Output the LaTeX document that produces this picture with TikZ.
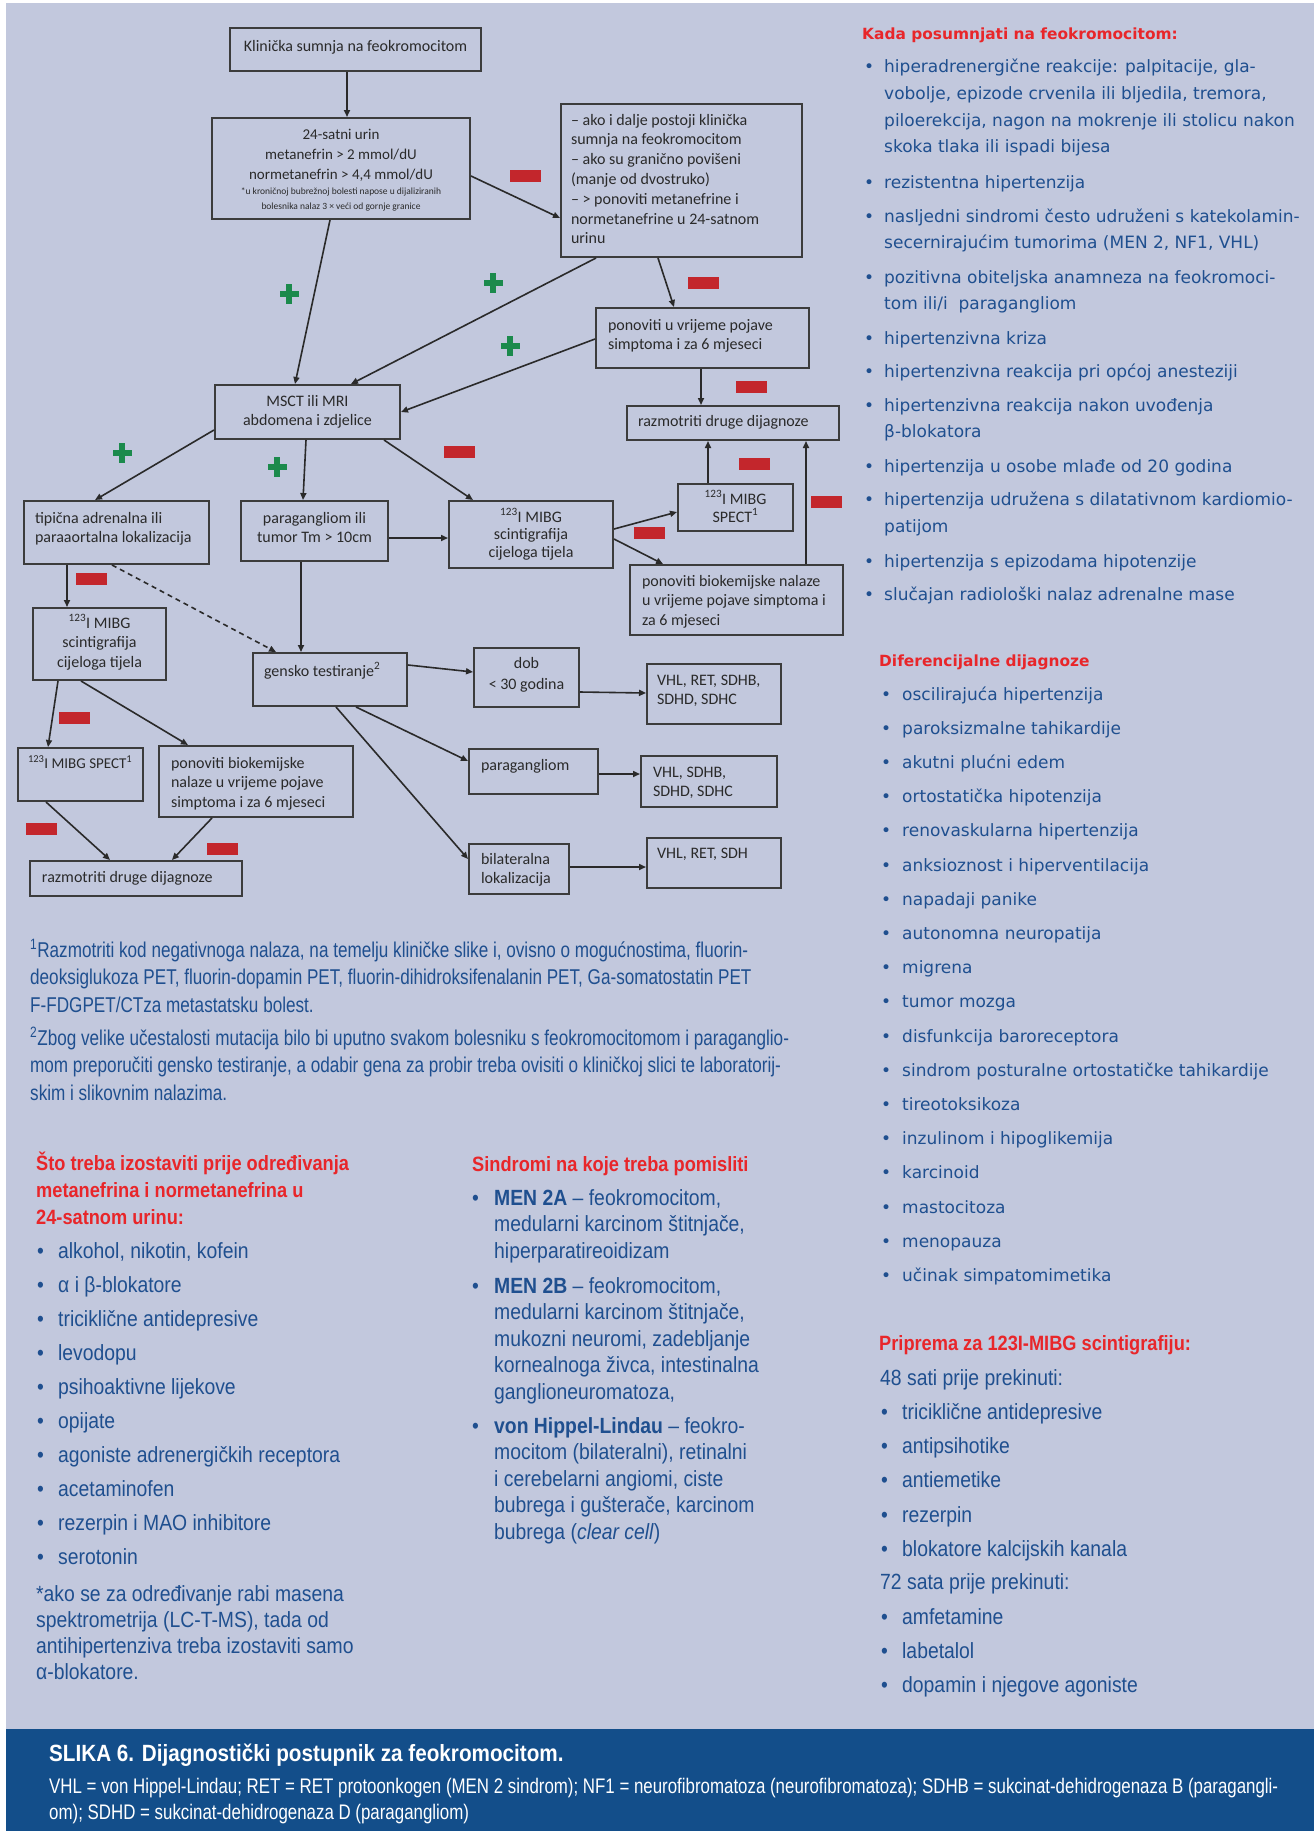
\documentclass[tikz,border=0pt]{standalone}
\usepackage{fontspec}
\setmainfont{Liberation Sans}
\newfontfamily\dvsfont{DejaVu Sans}
\newfontfamily\robfont[FakeStretch=0.88]{Liberation Sans}
\newfontfamily\robcfont[FakeStretch=0.8]{Liberation Sans}
\newfontfamily\calfont{Carlito}
\usetikzlibrary{arrows.meta}
\definecolor{bgc}{HTML}{C2C8DD}
\definecolor{bandc}{HTML}{134E8A}
\definecolor{bluetxt}{HTML}{1F4F8F}
\definecolor{redc}{HTML}{E8262A}
\definecolor{boxc}{HTML}{3C3C3C}
\definecolor{boxtxt}{HTML}{2A2A2A}
\definecolor{arrc}{HTML}{2A2A2A}
\definecolor{minc}{HTML}{C3262C}
\definecolor{plusc}{HTML}{1B8A4C}
\newcommand{\fbx}[6]{\node[fbox, minimum width=#4pt, minimum height=#5pt] (#1) at (#2,#3) {\parbox[c][#5pt][t]{#4pt}{#6}};}
\newcommand{\Lpad}[2]{\raggedright\setlength{\leftskip}{#1pt}\rule{0pt}{#2pt}}
\newcommand{\Cpad}[1]{\centering\rule{0pt}{#1pt}}
\newcommand{\bitem}[5]{\node[anchor=base west, inner sep=0pt] (#1) at (#2,{#3}) {\makebox[#4pt][l]{\textbullet}\parbox[t]{440pt}{\raggedright #5}};}
\newcommand{\tblock}[2]{\parbox[t]{#1pt}{\raggedright #2}}
\tikzset{
  fbox/.style={draw=boxc, line width=2pt, inner sep=0pt, anchor=north west, text=boxtxt, font=\calfont\fontsize{16}{19.8}\selectfont},
  arr/.style={-{Triangle[length=7pt,width=6pt]}, line width=1.6pt, draw=arrc},
  minus/.style={fill=minc, minimum width=31pt, minimum height=12pt, inner sep=0pt},
  plussign/.pic={\fill[plusc] (-9.5,-3) rectangle (9.5,3); \fill[plusc] (-3,-10) rectangle (3,10);},
  txt/.style={anchor=base west, inner sep=0pt}
}
\begin{document}
\begin{tikzpicture}[x=1pt,y=-1pt]
\useasboundingbox (0,0) rectangle (1316,1831);
\fill[white] (0,0) rectangle (1316,1831);
\fill[bgc] (6,3) rectangle (1314,1831);
\fill[bandc] (6,1729) rectangle (1314,1831);

% ---------- flowchart boxes ----------
\fbx{A}{229}{27}{251}{43}{\Cpad{23}Klinička sumnja na feokromocitom}
\fbx{B}{211}{117}{258}{101}{\fontsize{15}{20}\selectfont\Cpad{21}24-satni urin\\metanefrin > 2 mmol/dU\\normetanefrin > 4,4 mmol/dU\par\fontsize{9.5}{15}\selectfont *u kroničnoj bubrežnoj bolesti napose u dijaliziranih\\bolesnika nalaz 3 × veći od gornje granice}
\fbx{C}{560}{103}{241}{153}{\Lpad{10}{21}– ako i dalje postoji klinička\\sumnja na feokromocitom\\– ako su granično povišeni\\(manje od dvostruko)\\– > ponoviti metanefrine i\\normetanefrine u 24-satnom\\urinu}
\fbx{D}{595}{307}{213}{60}{\Lpad{12}{22}ponoviti u vrijeme pojave\\simptoma i za 6 mjeseci}
\fbx{E}{214}{384}{185}{54}{\Cpad{21}MSCT ili MRI\\abdomena i zdjelice}
\fbx{F}{626}{405}{212}{34}{\Lpad{11}{20}razmotriti druge dijagnoze}
\fbx{G}{677}{483}{115}{47}{\fontsize{16}{18}\selectfont\Cpad{20}\textsuperscript{123}I MIBG\\SPECT\textsuperscript{1}}
\fbx{H}{629}{564}{213}{70}{\Lpad{12}{21}ponoviti biokemijske nalaze\\u vrijeme pojave simptoma i\\za 6 mjeseci}
\fbx{I}{448}{500}{164}{67}{\fontsize{16}{17.5}\selectfont\Cpad{21}\textsuperscript{123}I MIBG\\scintigrafija\\cijeloga tijela}
\fbx{J}{23}{500}{185}{63}{\fontsize{16}{19}\selectfont\Lpad{11}{22}tipična adrenalna ili\\paraaortalna lokalizacija}
\fbx{K}{240}{500}{147}{60}{\fontsize{16}{19}\selectfont\Cpad{22}paragangliom ili\\tumor Tm > 10cm}
\fbx{L}{32}{607}{133}{72}{\fontsize{16}{19.5}\selectfont\Cpad{20}\textsuperscript{123}I MIBG\\scintigrafija\\cijeloga tijela}
\fbx{M}{252}{652}{154}{53}{\Lpad{11}{23}gensko testiranje\textsuperscript{2}}
\fbx{N}{473}{647}{105}{59}{\fontsize{16}{21}\selectfont\Cpad{20}dob\\< 30 godina}
\fbx{O}{646}{663}{134}{60}{\Lpad{10}{21}VHL, RET, SDHB,\\SDHD, SDHC}
\fbx{P}{468}{748}{129}{45}{\Lpad{12}{21}paragangliom}
\fbx{Q}{640}{755}{136}{51}{\Lpad{12}{21}VHL, SDHB,\\SDHD, SDHC}
\fbx{R}{468}{843}{100}{50}{\Lpad{12}{20}bilateralna\\lokalizacija}
\fbx{S}{646}{837}{134}{50}{\Lpad{10}{20}VHL, RET, SDH}
\fbx{T}{17}{747}{125}{53}{\fontsize{15}{19}\selectfont\Lpad{10}{20}\mbox{\textsuperscript{123}I MIBG SPECT\textsuperscript{1}}}
\fbx{U}{158}{745}{194}{71}{\Lpad{12}{22}ponoviti biokemijske\\nalaze u vrijeme pojave\\simptoma i za 6 mjeseci}
\fbx{V}{29}{860}{212}{35}{\Lpad{12}{21}razmotriti druge dijagnoze}

% ---------- connectors ----------
\draw[arr] ([xshift=-8.5pt]A.south) -- ([xshift=6pt]B.north);
\draw[arr] ([yshift=-7.5pt]B.east) -- ([yshift=-37.5pt]C.west);
\draw[arr] ([xshift=-11pt]B.south) -- ([xshift=-12.5pt]E.north);
\draw[arr] ([xshift=-85.5pt]C.south) -- ([xshift=43.5pt]E.north);
\draw[arr] ([xshift=-23.5pt]C.south) -- ([xshift=-28.5pt]D.north);
\draw[arr] ([yshift=-1pt]D.west) -- (E.east);
\draw[arr] ([xshift=-1.5pt]D.south) -- ([xshift=-32pt]F.north);
\draw[arr] ([xshift=-27.5pt]G.north) -- ([xshift=-25pt]F.south);
\draw[arr] ([xshift=69.5pt]H.north) -- ([xshift=73pt]F.south);
\draw[arr] ([yshift=5.5pt]I.east) -- ([yshift=-4.5pt]G.west);
\draw[arr] ([yshift=-4.5pt]I.east) -- ([xshift=-73.5pt]H.north);
\draw[arr] ([yshift=-18pt]E.west) -- ([xshift=-21.5pt]J.north);
\draw[arr] ([xshift=-1.5pt]E.south) -- ([xshift=-11.5pt]K.north);
\draw[arr] ([xshift=76.5pt]E.south) -- ([xshift=-58pt]I.north);
\draw[arr] ([yshift=-7pt]K.east) -- ([yshift=-3.5pt]I.west);
\draw[arr] ([xshift=-49.5pt]J.south) -- ([xshift=-32.5pt]L.north);
\draw[arr, dash pattern=on 5pt off 4pt] ([xshift=-4.5pt]J.south) -- ([xshift=-54pt]M.north);
\draw[arr] ([xshift=-13.5pt]K.south) -- ([xshift=-29pt]M.north);
\draw[arr] ([yshift=14.5pt]M.east) -- ([yshift=5.5pt]N.west);
\draw[arr] ([yshift=-14.5pt]N.east) -- ([yshift=1pt]O.west);
\draw[arr] ([xshift=26pt]M.south) -- ([yshift=10.5pt]P.west);
\draw[arr] ([yshift=-2.5pt]P.east) -- ([yshift=7.5pt]Q.west);
\draw[arr] ([xshift=6pt]M.south) -- ([yshift=10pt]R.west);
\draw[arr] ([yshift=2pt]R.east) -- ([yshift=-4pt]S.west);
\draw[arr] ([xshift=-41.5pt]L.south) -- ([xshift=-32.5pt]T.north);
\draw[arr] ([xshift=-18.5pt]L.south) -- ([xshift=-68pt]U.north);
\draw[arr] ([xshift=-34.5pt]T.south) -- ([xshift=-26pt]V.north);
\draw[arr] ([xshift=-44pt]U.south) -- ([xshift=36pt]V.north);

% ---------- plus / minus badges ----------
\node[minus] (m1) at (525,176) {};
\node[minus] (m2) at (703,283) {};
\node[minus] (m3) at (751,387) {};
\node[minus] (m4) at (754,464) {};
\node[minus] (m5) at (826,502) {};
\node[minus] (m6) at (649,533) {};
\node[minus] (m7) at (459,452) {};
\node[minus] (m8) at (91,579) {};
\node[minus] (m9) at (74,718) {};
\node[minus] (m10) at (41,829) {};
\node[minus] (m11) at (222,849) {};
\pic at (289,294) {plussign};
\pic at (493,283) {plussign};
\pic at (510,346) {plussign};
\pic at (122,453) {plussign};
\pic at (277,467) {plussign};

% ---------- footnotes ----------
\begin{scope}[text=bluetxt, font=\robcfont\fontsize{21.4}{27.5}\selectfont]
\node[txt] (fn1) at (30,957) {\tblock{820}{\textsuperscript{1}Razmotriti kod negativnoga nalaza, na temelju kliničke slike i, ovisno o mogućnostima, fluorin-\\deoksiglukoza PET, fluorin-dopamin PET, fluorin-dihidroksifenalanin PET, Ga-somatostatin PET\\F-FDGPET/CTza metastatsku bolest.}};
\node[txt] (fn2) at (30,1045) {\tblock{820}{\textsuperscript{2}Zbog velike učestalosti mutacija bilo bi uputno svakom bolesniku s feokromocitomom i paraganglio-\\mom preporučiti gensko testiranje, a odabir gena za probir treba ovisiti o kliničkoj slici te laboratorij-\\skim i slikovnim nalazima.}};
\end{scope}

% ---------- right column 1 ----------
\node[txt, text=redc, font=\dvsfont\bfseries\fontsize{15.4}{20}\selectfont] (h1) at (862,39) {Kada posumnjati na feokromocitom:};
\begin{scope}[text=bluetxt, font=\dvsfont\fontsize{17}{26.7}\selectfont]
\bitem{r1}{864}{72.7}{20}{hiperadrenergične reakcije: palpitacije, gla-\\vobolje, epizode crvenila ili bljedila, tremora,\\piloerekcija, nagon na mokrenje ili stolicu nakon\\skoka tlaka ili ispadi bijesa}
\bitem{r2}{864}{188}{20}{rezistentna hipertenzija}
\bitem{r3}{864}{222}{20}{nasljedni sindromi često udruženi s katekolamin-\\secernirajućim tumorima (MEN 2, NF1, VHL)}
\bitem{r4}{864}{283}{20}{pozitivna obiteljska anamneza na feokromoci-\\tom ili/i\ \ paragangliom}
\bitem{r5}{864}{344}{20}{hipertenzivna kriza}
\bitem{r6}{864}{377.6}{20}{hipertenzivna reakcija pri općoj anesteziji}
\bitem{r7}{864}{411}{20}{hipertenzivna reakcija nakon uvođenja\\β-blokatora}
\bitem{r8}{864}{472}{20}{hipertenzija u osobe mlađe od 20 godina}
\bitem{r9}{864}{505.6}{20}{hipertenzija udružena s dilatativnom kardiomio-\\patijom}
\bitem{r10}{864}{567}{20}{hipertenzija s epizodama hipotenzije}
\bitem{r11}{864}{600.6}{20}{slučajan radiološki nalaz adrenalne mase}
\end{scope}

% ---------- right column 2 ----------
\node[txt, text=redc, font=\dvsfont\bfseries\fontsize{15.4}{20}\selectfont] (h2) at (879,666) {Diferencijalne dijagnoze};
\begin{scope}[text=bluetxt, font=\dvsfont\fontsize{17}{26.7}\selectfont]
\foreach \t [count=\i] in {oscilirajuća hipertenzija, paroksizmalne tahikardije, akutni plućni edem, ortostatička hipotenzija, renovaskularna hipertenzija, anksioznost i hiperventilacija, napadaji panike, autonomna neuropatija, migrena, tumor mozga, disfunkcija baroreceptora, sindrom posturalne ortostatičke tahikardije, tireotoksikoza, inzulinom i hipoglikemija, karcinoid, mastocitoza, menopauza, učinak simpatomimetika}
  {\bitem{d\i}{881}{700+34.2*(\i-1)}{21}{\t}}
\end{scope}

% ---------- right column 3 ----------
\node[txt, text=redc, font=\robfont\bfseries\fontsize{20.7}{27}\selectfont] (h3) at (879,1350) {Priprema za 123I-MIBG scintigrafiju:};
\begin{scope}[text=bluetxt, font=\robfont\fontsize{22}{27}\selectfont]
\node[txt] (p48) at (880,1385) {48 sati prije prekinuti:};
\foreach \t/\yy [count=\i] in {triciklične antidepresive/1419, antipsihotike/1453, antiemetike/1487, rezerpin/1522, blokatore kalcijskih kanala/1556}
  {\bitem{pa\i}{881}{\yy}{21}{\t}}
\node[txt] (p72) at (880,1589) {72 sata prije prekinuti:};
\foreach \t/\yy [count=\i] in {amfetamine/1624, labetalol/1658, dopamin i njegove agoniste/1692}
  {\bitem{pb\i}{881}{\yy}{21}{\t}}
\end{scope}

% ---------- bottom left ----------
\node[txt, text=redc, font=\robfont\bfseries\fontsize{20.7}{27}\selectfont] (h4) at (36,1170) {\tblock{400}{Što treba izostaviti prije određivanja\\metanefrina i normetanefrina u\\24-satnom urinu:}};
\begin{scope}[text=bluetxt, font=\robfont\fontsize{22}{26.3}\selectfont]
\foreach \t [count=\i] in {{alkohol, nikotin, kofein}, α i β-blokatore, triciklične antidepresive, levodopu, psihoaktivne lijekove, opijate, agoniste adrenergičkih receptora, acetaminofen, rezerpin i MAO inhibitore, serotonin}
  {\bitem{b\i}{37}{1258+34.1*(\i-1)}{21}{\t}}
\node[txt] (note) at (36,1601) {\tblock{400}{*ako se za određivanje rabi masena\\spektrometrija (LC-T-MS), tada od\\antihipertenziva treba izostaviti samo\\α-blokatore.}};
\end{scope}

% ---------- middle ----------
\node[txt, text=redc, font=\robfont\bfseries\fontsize{20.7}{27}\selectfont] (h5) at (472,1171) {Sindromi na koje treba pomisliti};
\begin{scope}[text=bluetxt, font=\robfont\fontsize{22}{26.6}\selectfont]
\bitem{s1}{472}{1205}{22}{\textbf{MEN 2A} – feokromocitom,\\medularni karcinom štitnjače,\\hiperparatireoidizam}
\bitem{s2}{472}{1293}{22}{\textbf{MEN 2B} – feokromocitom,\\medularni karcinom štitnjače,\\mukozni neuromi, zadebljanje\\kornealnoga živca, intestinalna\\ganglioneuromatoza,}
\bitem{s3}{472}{1433}{22}{\textbf{von Hippel-Lindau} – feokro-\\mocitom (bilateralni), retinalni\\i cerebelarni angiomi, ciste\\bubrega i gušterače, karcinom\\bubrega (\textit{clear cell})}
\end{scope}

% ---------- caption ----------
\node[txt, text=white, font=\robfont\bfseries\fontsize{23.5}{26}\selectfont] (cap) at (49,1761) {SLIKA 6. Dijagnostički postupnik za feokromocitom.};
\node[txt, text=white, font=\robcfont\fontsize{21.1}{26}\selectfont] (capt) at (49,1793) {\tblock{1262}{VHL = von Hippel-Lindau; RET = RET protoonkogen (MEN 2 sindrom); NF1 = neurofibromatoza (neurofibromatoza); SDHB = sukcinat-dehidrogenaza B (paragangli-\\om); SDHD = sukcinat-dehidrogenaza D (paragangliom)}};
\end{tikzpicture}
\end{document}
